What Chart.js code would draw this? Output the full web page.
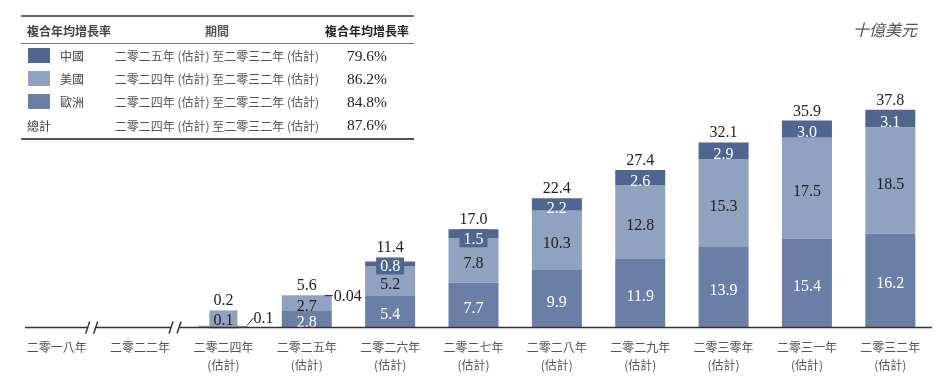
<!DOCTYPE html>
<html><head><meta charset="utf-8">
<script src="https://cdn.jsdelivr.net/npm/chart.js@4"></script>
<style>
body{margin:0;background:#fff;}
#wrap{position:relative;width:951px;height:382px;overflow:hidden;}
#c{position:absolute;left:0;top:0;}
#tbl{position:absolute;left:21px;top:15px;width:393px;border-top:2px solid #666;border-bottom:2px solid #555;font-family:'Noto Sans CJK TC',sans-serif;}
.hdr{height:26px;display:flex;align-items:center;border-bottom:1.5px solid #777;font-weight:bold;font-size:12px;color:#222;white-space:nowrap;}
.row{height:23.2px;display:flex;align-items:center;font-size:12px;white-space:nowrap;}
.c1{width:89px;display:flex;align-items:center;box-sizing:border-box;padding-left:6px;color:#444;}
.c2{width:214px;text-align:center;color:#555;}
.c3{width:86px;text-align:center;}
.num{font-family:'Liberation Serif',serif;font-size:15.5px;color:#222;}
.sw{display:inline-block;width:22px;height:15px;margin-left:1px;margin-right:10px;}
#unit{position:absolute;left:853px;top:17px;font-family:'Noto Sans CJK TC',sans-serif;font-style:italic;font-size:16px;color:#555;}
</style></head>
<body><div id="wrap">
<canvas id="c" width="951" height="382"></canvas>
<div id="tbl"></div>
<div id="unit">十億美元</div>
</div>
<script>
// ---- data ----
const categories = [["二零一八年"],["二零二二年"],["二零二四年","(估計)"],["二零二五年","(估計)"],["二零二六年","(估計)"],["二零二七年","(估計)"],["二零二八年","(估計)"],["二零二九年","(估計)"],["二零三零年","(估計)"],["二零三一年","(估計)"],["二零三二年","(估計)"]];
const europe = [null,null,0.1,2.8,5.4,7.7,9.9,11.9,13.9,15.4,16.2];
const usa    = [null,null,0.1,2.7,5.2,7.8,10.3,12.8,15.3,17.5,18.5];
const china  = [null,null,null,0.04,0.8,1.5,2.2,2.6,2.9,3.0,3.1];
const totals = [null,null,0.2,5.6,11.4,17.0,22.4,27.4,32.1,35.9,37.8];
const seriesNames = ["歐洲","美國","中國"];
const tableNames = ["中國","美國","歐洲","總計"];
const tablePeriods = ["二零二五年 (估計) 至二零三二年 (估計)","二零二四年 (估計) 至二零三二年 (估計)","二零二四年 (估計) 至二零三二年 (估計)","二零二四年 (估計) 至二零三二年 (估計)"];
const tableCagr = ["79.6%","86.2%","84.8%","87.6%"];
const headers = ["複合年均增長率","期間","複合年均增長率"];

// ---- styles ----
const colors = ["#6a7fa6","#8fa2bf","#4f6690"];
const tableColors = ["#4f6690","#8fa2bf","#6a7fa6",null];
const labelColors = ["#ffffff","#222222","#ffffff"];
const boxedLabels = [{d:1,i:2,anchor:'base'},{d:2,i:4,anchor:'top',dy:-4,h:17},{d:2,i:5,anchor:'top',dy:0,h:18}];
const calloutLabels = [{d:0,i:2,kind:'diag'},{d:2,i:3,kind:'dash'}];
const NUMFONT = "16px 'Liberation Serif'";

// table
(function(){
  const t = document.getElementById('tbl');
  let h = '<div class="hdr"><div class="c1">'+headers[0]+'</div><div class="c2">'+headers[1]+'</div><div class="c3">'+headers[2]+'</div></div>';
  tableNames.forEach((n,k)=>{
    const sw = tableColors[k] ? '<span class="sw" style="background:'+tableColors[k]+'"></span>' : '';
    h += '<div class="row"><div class="c1">'+sw+n+'</div><div class="c2">'+tablePeriods[k]+'</div><div class="c3 num">'+tableCagr[k]+'</div></div>';
  });
  t.innerHTML = h + '<div style="height:1px"></div>';
})();

const seriesVals = [europe, usa, china];
const fmt = v => v.toFixed(v < 0.1 ? 2 : 1);

const axisPlugin = {
  id:'axisBreak',
  afterDraw(chart){
    const ctx = chart.ctx, a = chart.chartArea, xs = chart.scales.x;
    const y = a.bottom + 0.5;
    const b1 = xs.getPixelForValue(0) + 0.42*(xs.getPixelForValue(1)-xs.getPixelForValue(0));
    const b2 = xs.getPixelForValue(1) + 0.42*(xs.getPixelForValue(2)-xs.getPixelForValue(1));
    ctx.save();
    ctx.strokeStyle = '#333'; ctx.lineWidth = 1.5;
    const segs = [[a.left+10, b1-4],[b1+4, b2-4],[b2+4, a.right]];
    ctx.beginPath();
    segs.forEach(s=>{ctx.moveTo(s[0],y);ctx.lineTo(s[1],y);});
    [b1,b2].forEach(b=>{
      ctx.moveTo(b-6, y+6); ctx.lineTo(b-2, y-6);
      ctx.moveTo(b+2, y+6); ctx.lineTo(b+6, y-6);
    });
    ctx.stroke();
    ctx.restore();
  }
};

const labelPlugin = {
  id:'valueLabels',
  afterDatasetsDraw(chart){
    const ctx = chart.ctx;
    ctx.save();
    ctx.font = NUMFONT;
    categories.forEach((c,i)=>{
      if (totals[i] == null) return;
      let topY = Infinity, xC = 0, halfW = 0;
      seriesVals.forEach((vals,d)=>{
        const v = vals[i];
        if (v == null) return;
        const el = chart.getDatasetMeta(d).data[i];
        const p = el.getProps(['x','y','base','width'], true);
        xC = p.x; halfW = p.width/2;
        topY = Math.min(topY, p.y);
        const txt = fmt(v);
        const tw = ctx.measureText(txt).width;
        const box = boxedLabels.find(o=>o.d===d && o.i===i);
        const call = calloutLabels.find(o=>o.d===d && o.i===i);
        ctx.textAlign = 'center'; ctx.textBaseline = 'alphabetic';
        if (box) {
          let bw, bh, bt;
          if (box.anchor === 'base') { bw = 28; bh = 18; bt = p.base + 2 - bh; }
          else { bw = tw + 8; bh = box.h; bt = p.y + box.dy; }
          ctx.fillStyle = colors[d];
          ctx.fillRect(p.x - bw/2, bt, bw, bh);
          ctx.fillStyle = labelColors[d];
          ctx.fillText(txt, p.x, bt + bh/2 + 5.5);
          topY = Math.min(topY, bt);
        } else if (call) {
          const r = p.x + halfW;
          ctx.strokeStyle = '#222'; ctx.lineWidth = 1;
          ctx.beginPath();
          if (call.kind === 'diag') {
            ctx.moveTo(r-1, p.base-2); ctx.lineTo(r+5, p.base-9); ctx.stroke();
            ctx.fillStyle = '#222'; ctx.textAlign = 'left';
            ctx.fillText(txt, r+5, p.base-4);
          } else {
            ctx.moveTo(r-7, p.y+0.5); ctx.lineTo(r+1, p.y+0.5); ctx.stroke();
            ctx.fillStyle = '#222'; ctx.textAlign = 'left';
            ctx.fillText(txt, r+2, p.y+5.5);
          }
        } else {
          ctx.fillStyle = labelColors[d];
          ctx.fillText(txt, p.x, (p.y + p.base)/2 + 8);
        }
      });
      ctx.fillStyle = '#222'; ctx.textAlign = 'center';
      ctx.fillText(fmt(totals[i]), xC, topY - 5);
    });
    ctx.restore();
  }
};

new Chart(document.getElementById('c'), {
  type:'bar',
  data:{
    labels: categories,
    datasets: seriesNames.map((n,d)=>({label:n, data:seriesVals[d], backgroundColor:colors[d], borderWidth:0, barPercentage:0.6, categoryPercentage:1}))
  },
  options:{
    responsive:false, animation:false, devicePixelRatio:1,
    layout:{padding:{left:15,right:19,top:97,bottom:0}},
    plugins:{legend:{display:false},tooltip:{enabled:false}},
    scales:{
      x:{stacked:true, grid:{display:false,drawTicks:false}, border:{display:false},
         ticks:{color:'#555', padding:11, maxRotation:0, autoSkip:false, font:{family:"'Noto Sans CJK TC'", size:12, lineHeight:1.5}},
         afterFit(s){ s.height = 55; }},
      y:{stacked:true, display:false, min:0, max:40}
    }
  },
  plugins:[axisPlugin, labelPlugin]
});
</script>
</body></html>
